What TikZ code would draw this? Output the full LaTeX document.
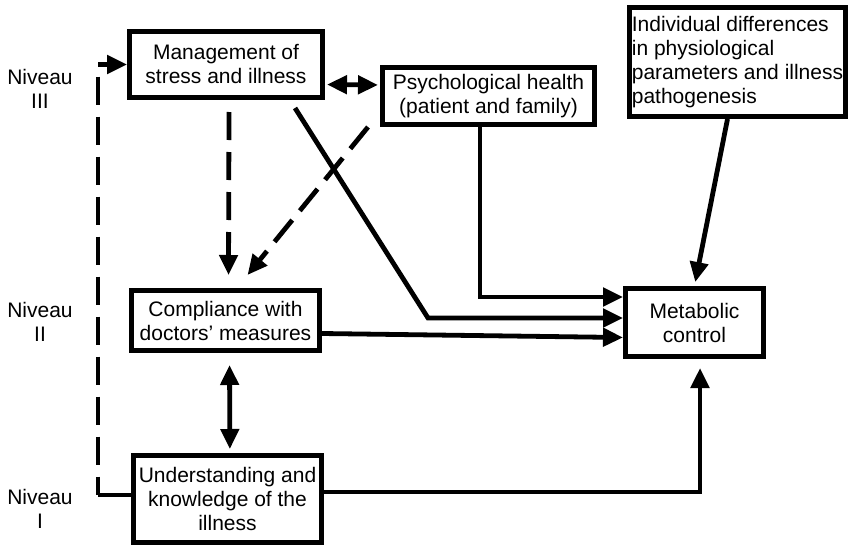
\documentclass[tikz,border=0pt]{standalone}
\usepackage{fontspec}
\setmainfont{Liberation Sans}
\usetikzlibrary{arrows.meta}
\tikzset{
  box/.style={draw, line width=2.6pt, align=center, inner sep=1pt, font=\fontsize{10.5}{12}\selectfont},
  level/.style={align=center, font=\fontsize{10.5}{12}\selectfont},
  plain/.style={line width=2.4pt},
  link/.style={line width=2.4pt, -{Triangle[length=10pt,width=9pt]}},
  twoway/.style={line width=2.4pt, {Triangle[length=10pt,width=9pt]}-{Triangle[length=10pt,width=9pt]}},
  dashlink/.style={link, dash pattern=on 14pt off 6pt}
}
\begin{document}
\begin{tikzpicture}[x=0.5pt, y=-0.5pt]
  \useasboundingbox (0,0) rectangle (857,546);

  % levels
  \node[level] (lvlthree) at (40,88.5) {Niveau\\III};
  \node[level] (lvltwo) at (40,321.5) {Niveau\\II};
  \node[level] (lvlone) at (40,509) {Niveau\\I};

  % boxes
  \node[box, minimum width=96.4pt, minimum height=32.9pt] (mgmt) at (226,64.5) {Management of\\stress and illness};
  \node[box, minimum width=105.9pt, minimum height=28.4pt] (psych) at (488.5,96) {Psychological health\\(patient and family)};
  \node[box, align=left, minimum width=107.9pt, minimum height=54.4pt] (indiv) at (737.5,62) {Individual differences\\in physiological\\parameters and illness\\pathogenesis};
  \node[box, minimum width=68.9pt, minimum height=33.9pt] (metab) at (694.5,322.5) {Metabolic\\control};
  \node[box, minimum width=93.9pt, minimum height=29.9pt] (compl) at (225.5,320.5) {Compliance with\\doctors' measures};
  \node[box, minimum width=93.9pt, minimum height=43.4pt] (under) at (227.5,499) {Understanding and\\knowledge of the\\illness};

  % bends
  \coordinate (ftop) at (98,64.5);
  \coordinate (fbot) at (98,495);
  \coordinate (kinkm) at (428,318);
  \coordinate (kinkp) at (480,297);
  \coordinate (kinku) at (700,492);

  % feedback from level I to level III
  \draw[plain] (under.west |- fbot) -- (fbot);
  \draw[plain, dash pattern=on 14pt off 6pt, dash phase=14pt] (ftop) -- (fbot);
  \draw[link] (ftop) -- (mgmt.west);

  % dashed influences on compliance
  \draw[dashlink] ([xshift=1.5pt,yshift=-6pt]mgmt.south) -- ([xshift=1.5pt,yshift=6.5pt]compl.north);
  \draw[dashlink] ([xshift=-6pt]psych.south west) -- ([xshift=11pt,yshift=6.5pt]compl.north);

  % into metabolic control
  \draw[link] ([xshift=-15pt,yshift=-4pt]mgmt.south east) -- (kinkm) -- (metab.west |- kinkm);
  \draw[link] (psych.south -| kinkp) -- (kinkp) -- (metab.west |- kinkp);
  \draw[link] ([yshift=-6.5pt]compl.east) -- ([yshift=-7.5pt]metab.west);
  \draw[link, shorten >=4.5pt] (under.east |- kinku) -- (kinku) -- (kinku |- metab.south);
  \draw[link, shorten >=2pt] ([xshift=-5pt]indiv.south) -- (metab.north);

  % two-way links
  \draw[twoway, shorten <=1pt, shorten >=1pt] ([yshift=-10pt]mgmt.east) -- ([yshift=5.5pt]psych.west);
  \draw[twoway, shorten <=6pt, shorten >=2pt] ([xshift=2pt]compl.south) -- ([xshift=1.2pt]under.north);
\end{tikzpicture}
\end{document}
